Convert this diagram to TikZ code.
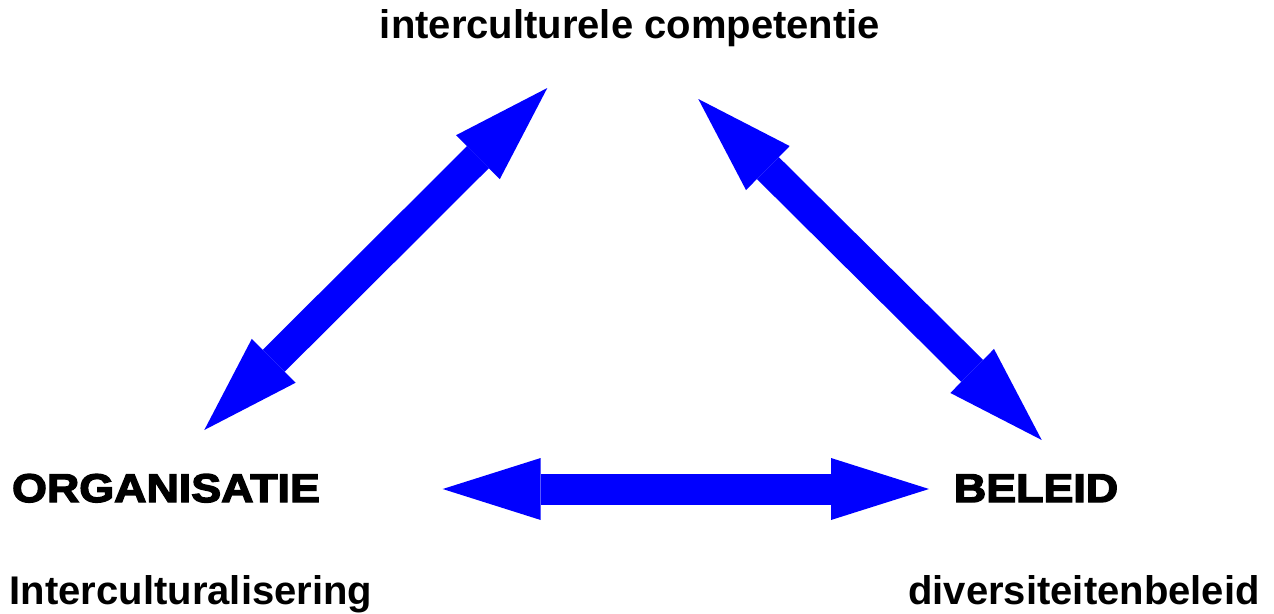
\documentclass[tikz,border=0pt]{standalone}
\usepackage{fontspec}
\setmainfont{Liberation Sans}
\newfontfamily\heavyfont{Liberation Sans Bold}[FakeBold=3.5,FakeStretch=1.12]
\usetikzlibrary{arrows.meta}
\definecolor{arrowblue}{RGB}{0,0,255}
\tikzset{
  bigtip/.tip={Triangle[length=98pt,width=62pt,line width=0pt]},
  dblarrow/.style={draw=arrowblue, line width=31pt, bigtip-bigtip},
  lowtext/.style={anchor=base, inner sep=0pt, font=\fontsize{40}{48}\selectfont\bfseries},
  captext/.style={anchor=base, inner sep=0pt, font=\fontsize{40}{48}\selectfont\heavyfont}
}
\begin{document}
\begin{tikzpicture}[x=1pt,y=-1pt]
\useasboundingbox (0,0) rectangle (1274,613);
\node[lowtext] (comp) at (630,38) {interculturele competentie};
\node[captext] (org) at (166,502) {ORGANISATIE};
\node[captext] (bel) at (1036,502) {BELEID};
\node[lowtext] (intc) at (191,604) {Interculturalisering};
\node[lowtext] (div) at (1084,604) {diversiteitenbeleid};
\coordinate (l1) at (204.3,430);
\coordinate (l2) at (547.3,88);
\coordinate (r1) at (698.3,99);
\coordinate (r2) at (1041.7,440);
\coordinate (h1) at (442.7,489);
\coordinate (h2) at (929,489);
\draw[dblarrow] (l1) -- (l2);
\draw[dblarrow] (r1) -- (r2);
\draw[dblarrow] (h1) -- (h2);
\end{tikzpicture}
\end{document}
